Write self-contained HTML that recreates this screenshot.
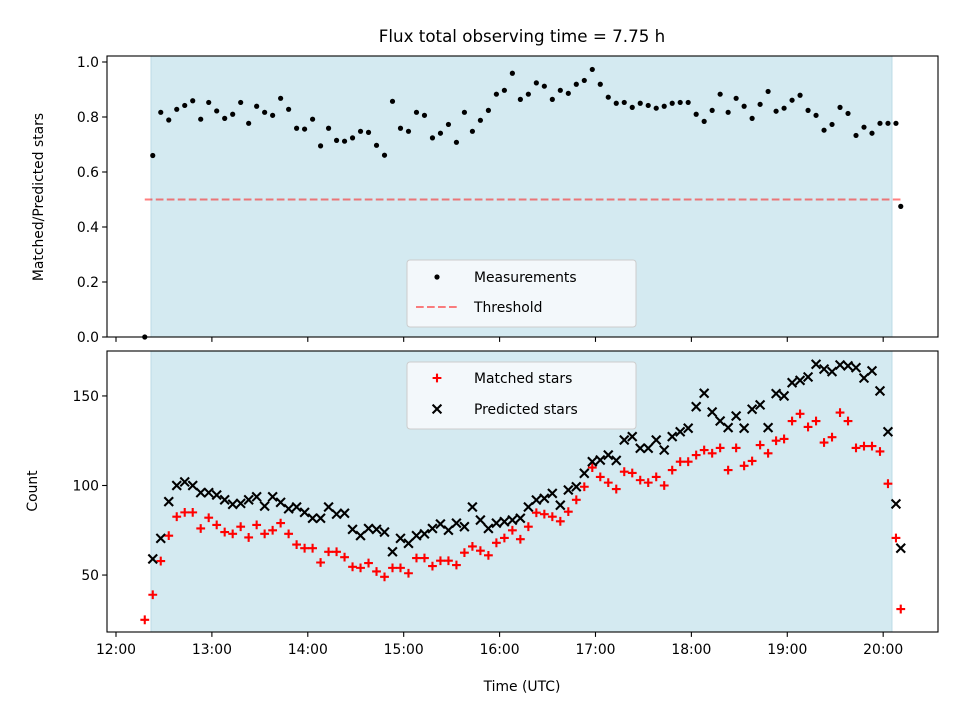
<!DOCTYPE html>
<html><head><meta charset="utf-8"><style>
html,body{margin:0;padding:0;background:#fff;}
svg{display:block;font-family:"DejaVu Sans","Liberation Sans",sans-serif;}
</style></head><body>
<svg id="fig" width="960" height="720" viewBox="0 0 960 720" xmlns="http://www.w3.org/2000/svg"></svg>
<script>
// ---- data ----
const times = [738,743,748,753,758,763,768,773,778,783,788,793,798,803,808,813,818,823,828,833,838,843,848,853,858,863,868,873,878,883,888,893,898,903,908,913,918,923,928,933,938,943,948,953,958,963,968,973,978,983,988,993,998,1003,1008,1013,1018,1023,1028,1033,1038,1043,1048,1053,1058,1063,1068,1073,1078,1083,1088,1093,1098,1103,1108,1113,1118,1123,1128,1133,1138,1143,1148,1153,1158,1163,1168,1173,1178,1183,1188,1193,1198,1203,1208,1211];
const ratio = [0.0,0.66,0.817,0.789,0.828,0.842,0.859,0.792,0.853,0.822,0.795,0.81,0.853,0.777,0.839,0.817,0.806,0.868,0.828,0.759,0.756,0.792,0.695,0.759,0.715,0.712,0.724,0.748,0.744,0.697,0.661,0.857,0.759,0.748,0.817,0.806,0.724,0.741,0.773,0.708,0.817,0.748,0.788,0.824,0.883,0.897,0.959,0.864,0.883,0.924,0.912,0.864,0.897,0.886,0.919,0.933,0.973,0.919,0.872,0.85,0.853,0.835,0.85,0.842,0.832,0.839,0.85,0.853,0.853,0.81,0.784,0.824,0.883,0.817,0.868,0.839,0.795,0.846,0.893,0.821,0.832,0.861,0.879,0.824,0.806,0.752,0.773,0.835,0.813,0.733,0.763,0.741,0.777,0.777,0.777,0.475];
const matched = [25,39,57.8,72,82.6,85,85,76,82,78,74,73,77,71,78,73,75,79,73,67,65,65,57,63,63,60,54.6,54,56.7,52,49,54,54,51,59.5,59.5,55,58,58,55.6,62.5,66,63.6,61,68,70.7,75,70,77,84.8,84,82.6,80,85.4,92,99.3,110,104.8,101.6,98,107.7,107,103,101.6,104.8,100,108.6,113.3,113.3,117,119.8,118,121,108.6,121,111,113.7,122.6,118,125,126,136,140,132.7,136,124,127,140.7,136,121,122,122,119,101,70.7,31];
const predicted = [null,59,70.5,91,100,102,100,96,96,94.7,92,89.5,90,92,93.7,88.5,93.7,90.6,87,88,85,81.7,81.7,88,84,84.5,75.5,72,76,75.5,74,63,70.5,67.7,72,73,76,78.5,75,79,77,88,80.7,76,79,79.8,80.7,81.7,88,91.9,92.8,95.6,89,97.5,99.3,106.8,113.3,114.2,117,114,125.4,127.3,120.8,120.8,125.4,119.8,127.3,130,132,144,151.5,141,136,132.3,138.8,132,142.6,145,132.3,151.3,150,157.4,158.7,160.6,167.7,165,163.6,167.3,166.8,165.8,160,164,152.8,130,89.7,65];
const xTicks = [720,780,840,900,960,1020,1080,1140,1200];
const xTickLabels = ["12:00","13:00","14:00","15:00","16:00","17:00","18:00","19:00","20:00"];
const topYTicks = [0.0,0.2,0.4,0.6,0.8,1.0];
const topYTickLabels = ["0.0","0.2","0.4","0.6","0.8","1.0"];
const botYTicks = [50,100,150];
const botYTickLabels = ["50","100","150"];
const threshold = 0.5;
const spanStart = 741.9, spanEnd = 1205.5;

// ---- layout ----
const NS = "http://www.w3.org/2000/svg";
const svg = document.getElementById('fig');
const L = 107, R = 938;
const topAx = {t:56, b:337, min:0, max:1.0218};
const botAx = {t:351, b:632, min:18.2, max:175.1};
const xmin = 714.37, xmax = 1234.3;
function xs(m){ return L + (m - xmin) / (xmax - xmin) * (R - L); }
function ysTop(v){ return topAx.b - (v - topAx.min) / (topAx.max - topAx.min) * (topAx.b - topAx.t); }
function ysBot(v){ return botAx.b - (v - botAx.min) / (botAx.max - botAx.min) * (botAx.b - botAx.t); }
function mk(tag, attrs, parent){
  const e = document.createElementNS(NS, tag);
  for (const k in attrs) e.setAttribute(k, attrs[k]);
  (parent || svg).appendChild(e);
  return e;
}

const title = mk('text', {x:522, y:42, 'text-anchor':'middle', 'font-size':'16.7', fill:'#000'});
title.textContent = 'Flux total observing time = 7.75 h';



function drawAxes(ax, ys, yTicks, yLabels, panel, showXLabels){
  const g = mk('g', {});
  
  
  const span = mk('rect', {x:xs(spanStart), y:ax.t, width:xs(spanEnd)-xs(spanStart), height:ax.b-ax.t, fill:'#d4eaf1', stroke:'#bcdbe6', 'stroke-width':1}, g);
  
  
  const plot = mk('g', {}, g);
  
  
  xTicks.forEach((t, i) => {
    const x = xs(t);
    const tk = mk('line', {x1:x, x2:x, y1:ax.b, y2:ax.b+4.9, stroke:'#000', 'stroke-width':1.1}, g);
    
    
    if (showXLabels){
      const tl = mk('text', {x:x, y:ax.b+22, 'text-anchor':'middle', 'font-size':'13.9', fill:'#000'}, g);
      tl.textContent = xTickLabels[i];
      
      
    }
  });
  yTicks.forEach((v, i) => {
    const y = ys(v);
    const tk = mk('line', {x1:L-4.9, x2:L, y1:y, y2:y, stroke:'#000', 'stroke-width':1.1}, g);
    
    
    const tl = mk('text', {x:L-8, y:y+5, 'text-anchor':'end', 'font-size':'13.9', fill:'#000'}, g);
    tl.textContent = yLabels[i];
    
    
  });
  return plot;
}

const topPlot = drawAxes(topAx, ysTop, topYTicks, topYTickLabels, 'top', false);
const botPlot = drawAxes(botAx, ysBot, botYTicks, botYTickLabels, 'bottom', true);

const th = mk('line', {x1:xs(times[0]), x2:xs(times[times.length-1]), y1:ysTop(threshold), y2:ysTop(threshold), stroke:'#ff0000', 'stroke-opacity':0.5, 'stroke-width':2.1, 'stroke-dasharray':'7.7 3.3'}, topPlot);



ratio.forEach((v, i) => {
  const c = mk('circle', {cx:xs(times[i]), cy:ysTop(v), r:2.6, fill:'#000'}, topPlot);
  
  
});

matched.forEach((v, i) => {
  if (v === null) return;
  const x = xs(times[i]), y = ysBot(v), s = 4.4;
  const p = mk('path', {d:`M${x-s},${y}H${x+s}M${x},${y-s}V${y+s}`, stroke:'#ff0000', 'stroke-width':2.1, fill:'none'}, botPlot);
  
  
});
predicted.forEach((v, i) => {
  if (v === null) return;
  const x = xs(times[i]), y = ysBot(v), s = 4.4;
  const p = mk('path', {d:`M${x-s},${y-s}L${x+s},${y+s}M${x-s},${y+s}L${x+s},${y-s}`, stroke:'#000', 'stroke-width':2.1, fill:'none'}, botPlot);
  
  
});

[topAx, botAx].forEach((ax, k) => {
  const r = mk('rect', {x:L, y:ax.t, width:R-L, height:ax.b-ax.t, fill:'none', stroke:'#000', 'stroke-width':1.1});
  
  
});

function legendBox(y, h, name){
  const r = mk('rect', {x:407, y:y, width:229, height:h, rx:3, fill:'#f6fafc', 'fill-opacity':0.9, stroke:'#cccccc', 'stroke-width':1});
  
  
}
function legendText(y, txt, name){
  const t = mk('text', {x:474, y:y+5, 'font-size':'13.9', fill:'#000'});
  t.textContent = txt;
  
  
}
legendBox(260, 67, 'top-legend');
const lm = mk('circle', {cx:437, cy:277, r:2.6, fill:'#000'});


legendText(277, 'Measurements', 'legend-measurements-label');
const ll = mk('line', {x1:416, x2:458, y1:307, y2:307, stroke:'#ff0000', 'stroke-opacity':0.5, 'stroke-width':2.1, 'stroke-dasharray':'7.7 3.3'});


legendText(307, 'Threshold', 'legend-threshold-label');

legendBox(362, 67, 'bottom-legend');
const lp = mk('path', {d:'M432.6,378H441.4M437,373.6V382.4', stroke:'#ff0000', 'stroke-width':2.1, fill:'none'});


legendText(378, 'Matched stars', 'legend-matched-label');
const lx = mk('path', {d:'M432.6,404.6L441.4,413.4M432.6,413.4L441.4,404.6', stroke:'#000', 'stroke-width':2.1, fill:'none'});


legendText(409, 'Predicted stars', 'legend-predicted-label');

const yt1 = mk('text', {x:0, y:0, 'text-anchor':'middle', 'font-size':'13.9', fill:'#000', transform:'translate(43,197) rotate(-90)'});
yt1.textContent = 'Matched/Predicted stars';


const yt2 = mk('text', {x:0, y:0, 'text-anchor':'middle', 'font-size':'13.9', fill:'#000', transform:'translate(37,491) rotate(-90)'});
yt2.textContent = 'Count';


const xt = mk('text', {x:522, y:691, 'text-anchor':'middle', 'font-size':'13.9', fill:'#000'});
xt.textContent = 'Time (UTC)';


</script>
</body></html>
